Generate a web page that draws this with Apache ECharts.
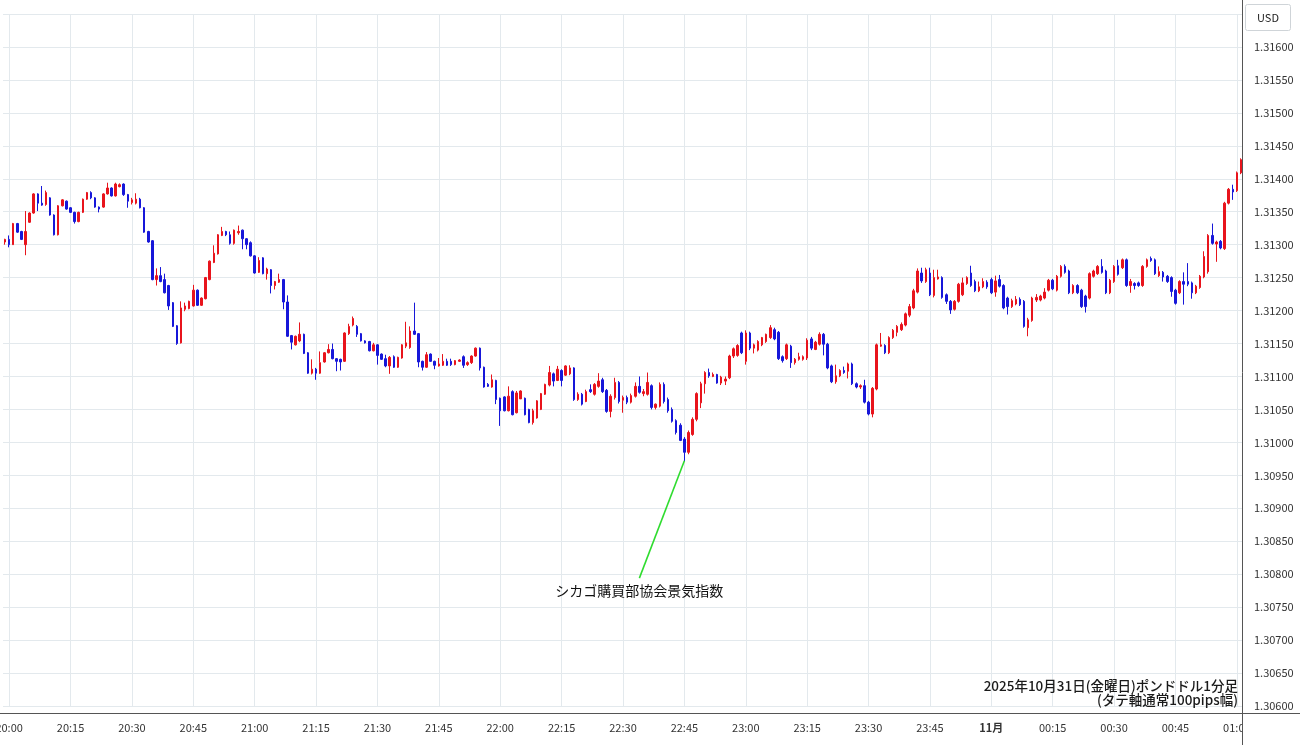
<!DOCTYPE html>
<html>
<head>
<meta charset="utf-8">
<script src="https://cdn.jsdelivr.net/npm/echarts@6/dist/echarts.min.js"></script>
<style>
html,body{margin:0;padding:0;background:#fff;}
#chart{width:1300px;height:745px;}
</style>
</head>
<body>
<div id="chart"></div>
<script>
// minute categories 19:59 .. 01:01
const startTime = '19:59';
const candleCount = 303;
const categories = [];
(function () {
  const p = startTime.split(':');
  const s = (+p[0]) * 60 + (+p[1]);
  for (let i = 0; i < candleCount; i++) {
    const m = (s + i) % 1440;
    categories.push(String(Math.floor(m / 60)).padStart(2, '0') + ':' + String(m % 60).padStart(2, '0'));
  }
})();

// x tick labels shown every 15 minutes
const xTickLabels = ['20:00','20:15','20:30','20:45','21:00','21:15','21:30','21:45','22:00','22:15','22:30','22:45','23:00','23:15','23:30','23:45','00:00','00:15','00:30','00:45','01:00'];
const dayChangeLabel = '11月';

// [open, close, low, high]
const ohlc = [
[1.31304,1.31308,1.31300,1.31309],[1.31308,1.31300,1.31296,1.31314],[1.31300,1.31332,1.31300,1.31333],[1.31332,1.31319,1.31318,1.31333],
[1.31320,1.31308,1.31307,1.31321],[1.31300,1.31320,1.31284,1.31351],[1.31334,1.31348,1.31333,1.31349],[1.31348,1.31377,1.31347,1.31378],
[1.31377,1.31363,1.31351,1.31378],[1.31363,1.31360,1.31359,1.31389],[1.31361,1.31379,1.31359,1.31382],[1.31371,1.31345,1.31344,1.31372],
[1.31345,1.31315,1.31314,1.31346],[1.31315,1.31359,1.31314,1.31360],[1.31359,1.31368,1.31358,1.31369],[1.31366,1.31354,1.31353,1.31367],
[1.31356,1.31349,1.31348,1.31357],[1.31349,1.31335,1.31332,1.31350],[1.31335,1.31349,1.31334,1.31350],[1.31349,1.31369,1.31348,1.31370],
[1.31369,1.31379,1.31368,1.31380],[1.31379,1.31371,1.31369,1.31381],[1.31371,1.31357,1.31356,1.31372],[1.31357,1.31354,1.31349,1.31358],
[1.31357,1.31377,1.31356,1.31378],[1.31377,1.31386,1.31376,1.31394],[1.31386,1.31374,1.31373,1.31387],[1.31374,1.31392,1.31373,1.31394],
[1.31388,1.31391,1.31387,1.31393],[1.31392,1.31376,1.31374,1.31393],[1.31376,1.31366,1.31356,1.31377],[1.31364,1.31368,1.31361,1.31371],
[1.31363,1.31369,1.31361,1.31378],[1.31369,1.31356,1.31355,1.31371],[1.31356,1.31319,1.31318,1.31357],[1.31320,1.31304,1.31303,1.31321],
[1.31306,1.31247,1.31246,1.31307],[1.31247,1.31253,1.31238,1.31264],[1.31253,1.31244,1.31243,1.31266],[1.31247,1.31227,1.31226,1.31256],
[1.31238,1.31207,1.31201,1.31239],[1.31212,1.31176,1.31175,1.31213],[1.31177,1.31150,1.31148,1.31178],[1.31151,1.31204,1.31150,1.31214],
[1.31202,1.31207,1.31199,1.31212],[1.31203,1.31214,1.31202,1.31215],[1.31207,1.31231,1.31206,1.31239],[1.31231,1.31208,1.31207,1.31232],
[1.31208,1.31219,1.31207,1.31220],[1.31218,1.31250,1.31217,1.31251],[1.31247,1.31275,1.31246,1.31276],[1.31273,1.31287,1.31272,1.31299],
[1.31286,1.31315,1.31285,1.31316],[1.31314,1.31320,1.31313,1.31327],[1.31320,1.31315,1.31313,1.31321],[1.31315,1.31302,1.31300,1.31320],
[1.31302,1.31322,1.31300,1.31323],[1.31318,1.31320,1.31315,1.31329],[1.31322,1.31309,1.31293,1.31323],[1.31309,1.31300,1.31293,1.31310],
[1.31303,1.31283,1.31282,1.31305],[1.31283,1.31257,1.31256,1.31284],[1.31258,1.31276,1.31257,1.31281],[1.31280,1.31256,1.31255,1.31281],
[1.31256,1.31263,1.31247,1.31265],[1.31262,1.31238,1.31226,1.31263],[1.31238,1.31244,1.31232,1.31245],[1.31243,1.31247,1.31242,1.31256],
[1.31247,1.31213,1.31202,1.31248],[1.31213,1.31161,1.31160,1.31223],[1.31162,1.31152,1.31141,1.31163],[1.31148,1.31161,1.31147,1.31162],
[1.31154,1.31164,1.31152,1.31182],[1.31164,1.31135,1.31134,1.31165],[1.31136,1.31105,1.31104,1.31137],[1.31105,1.31111,1.31103,1.31126],
[1.31111,1.31105,1.31095,1.31113],[1.31105,1.31121,1.31104,1.31138],[1.31122,1.31136,1.31121,1.31137],[1.31136,1.31141,1.31135,1.31149],
[1.31141,1.31127,1.31126,1.31150],[1.31127,1.31123,1.31108,1.31128],[1.31126,1.31122,1.31109,1.31127],[1.31123,1.31166,1.31122,1.31167],
[1.31165,1.31176,1.31163,1.31180],[1.31178,1.31188,1.31176,1.31191],[1.31176,1.31164,1.31160,1.31178],[1.31165,1.31154,1.31153,1.31166],
[1.31154,1.31151,1.31150,1.31155],[1.31153,1.31139,1.31138,1.31154],[1.31139,1.31148,1.31138,1.31151],[1.31148,1.31132,1.31118,1.31149],
[1.31134,1.31126,1.31125,1.31135],[1.31127,1.31116,1.31114,1.31133],[1.31116,1.31129,1.31104,1.31131],[1.31130,1.31114,1.31113,1.31132],
[1.31114,1.31129,1.31113,1.31130],[1.31128,1.31148,1.31127,1.31149],[1.31146,1.31151,1.31143,1.31183],[1.31144,1.31169,1.31142,1.31176],
[1.31169,1.31164,1.31163,1.31212],[1.31165,1.31122,1.31114,1.31166],[1.31123,1.31114,1.31109,1.31124],[1.31114,1.31133,1.31113,1.31137],
[1.31134,1.31123,1.31122,1.31135],[1.31123,1.31117,1.31111,1.31124],[1.31116,1.31119,1.31115,1.31128],[1.31117,1.31123,1.31116,1.31134],
[1.31123,1.31117,1.31116,1.31127],[1.31123,1.31118,1.31116,1.31127],[1.31118,1.31124,1.31117,1.31125],[1.31123,1.31125,1.31122,1.31126],
[1.31130,1.31117,1.31113,1.31132],[1.31118,1.31121,1.31116,1.31123],[1.31121,1.31131,1.31119,1.31132],[1.31131,1.31143,1.31130,1.31144],
[1.31143,1.31113,1.31109,1.31144],[1.31114,1.31084,1.31083,1.31115],[1.31088,1.31085,1.31084,1.31090],[1.31084,1.31095,1.31083,1.31103],
[1.31094,1.31065,1.31058,1.31095],[1.31067,1.31048,1.31025,1.31068],[1.31069,1.31048,1.31047,1.31070],[1.31048,1.31070,1.31047,1.31085],
[1.31077,1.31042,1.31041,1.31079],[1.31045,1.31075,1.31044,1.31078],[1.31066,1.31078,1.31066,1.31079],[1.31067,1.31042,1.31041,1.31068],
[1.31050,1.31030,1.31029,1.31051],[1.31030,1.31048,1.31027,1.31051],[1.31037,1.31063,1.31036,1.31064],[1.31050,1.31074,1.31049,1.31075],
[1.31073,1.31088,1.31072,1.31089],[1.31087,1.31106,1.31085,1.31116],[1.31104,1.31093,1.31085,1.31106],[1.31094,1.31111,1.31093,1.31116],
[1.31109,1.31094,1.31085,1.31111],[1.31102,1.31116,1.31101,1.31117],[1.31104,1.31113,1.31102,1.31117],[1.31113,1.31065,1.31063,1.31114],
[1.31065,1.31073,1.31063,1.31076],[1.31073,1.31058,1.31056,1.31075],[1.31062,1.31077,1.31061,1.31080],[1.31080,1.31077,1.31075,1.31088],
[1.31073,1.31088,1.31071,1.31090],[1.31085,1.31093,1.31083,1.31105],[1.31095,1.31077,1.31075,1.31098],[1.31079,1.31047,1.31045,1.31081],
[1.31047,1.31070,1.31038,1.31073],[1.31068,1.31091,1.31065,1.31098],[1.31091,1.31062,1.31059,1.31093],[1.31064,1.31068,1.31045,1.31071],
[1.31068,1.31061,1.31058,1.31071],[1.31061,1.31071,1.31059,1.31074],[1.31070,1.31085,1.31068,1.31091],[1.31085,1.31076,1.31074,1.31100],
[1.31074,1.31077,1.31070,1.31081],[1.31073,1.31091,1.31071,1.31106],[1.31086,1.31053,1.31050,1.31088],[1.31053,1.31058,1.31050,1.31059],
[1.31055,1.31088,1.31053,1.31091],[1.31088,1.31062,1.31059,1.31091],[1.31065,1.31048,1.31045,1.31068],[1.31050,1.31032,1.31030,1.31053],
[1.31033,1.31015,1.31012,1.31035],[1.31026,1.31003,1.31002,1.31029],[1.31005,1.30985,1.30971,1.31008],[1.30985,1.31015,1.30982,1.31018],
[1.31012,1.31035,1.31010,1.31038],[1.31035,1.31074,1.31032,1.31076],[1.31060,1.31089,1.31052,1.31092],[1.31089,1.31106,1.31074,1.31108],
[1.31106,1.31101,1.31098,1.31112],[1.31100,1.31103,1.31099,1.31106],[1.31103,1.31090,1.31089,1.31104],[1.31090,1.31099,1.31087,1.31101],
[1.31093,1.31096,1.31087,1.31100],[1.31098,1.31131,1.31096,1.31133],[1.31131,1.31142,1.31128,1.31144],[1.31132,1.31147,1.31130,1.31149],
[1.31166,1.31136,1.31134,1.31168],[1.31123,1.31166,1.31118,1.31170],[1.31166,1.31143,1.31140,1.31168],[1.31143,1.31148,1.31135,1.31150],
[1.31140,1.31153,1.31138,1.31155],[1.31148,1.31159,1.31146,1.31160],[1.31153,1.31164,1.31151,1.31165],[1.31159,1.31174,1.31157,1.31178],
[1.31171,1.31157,1.31155,1.31174],[1.31167,1.31127,1.31125,1.31169],[1.31130,1.31124,1.31121,1.31132],[1.31127,1.31148,1.31125,1.31150],
[1.31146,1.31121,1.31113,1.31148],[1.31121,1.31126,1.31118,1.31128],[1.31126,1.31130,1.31124,1.31136],[1.31126,1.31130,1.31124,1.31132],
[1.31128,1.31155,1.31125,1.31158],[1.31157,1.31143,1.31140,1.31160],[1.31141,1.31152,1.31140,1.31154],[1.31149,1.31164,1.31147,1.31167],
[1.31164,1.31149,1.31132,1.31166],[1.31149,1.31113,1.31111,1.31151],[1.31116,1.31092,1.31090,1.31118],[1.31092,1.31101,1.31089,1.31118],
[1.31101,1.31109,1.31099,1.31111],[1.31109,1.31106,1.31104,1.31115],[1.31108,1.31119,1.31097,1.31121],[1.31119,1.31089,1.31087,1.31121],
[1.31089,1.31084,1.31082,1.31091],[1.31084,1.31086,1.31081,1.31088],[1.31086,1.31061,1.31059,1.31095],[1.31061,1.31043,1.31041,1.31063],
[1.31043,1.31082,1.31038,1.31084],[1.31081,1.31148,1.31079,1.31150],[1.31146,1.31148,1.31145,1.31166],[1.31147,1.31136,1.31134,1.31149],
[1.31136,1.31159,1.31134,1.31161],[1.31159,1.31170,1.31157,1.31172],[1.31167,1.31176,1.31161,1.31178],[1.31171,1.31179,1.31169,1.31182],
[1.31178,1.31195,1.31176,1.31197],[1.31193,1.31206,1.31190,1.31210],[1.31204,1.31230,1.31202,1.31233],[1.31228,1.31260,1.31226,1.31264],
[1.31257,1.31245,1.31242,1.31265],[1.31244,1.31262,1.31242,1.31265],[1.31257,1.31224,1.31222,1.31265],[1.31223,1.31250,1.31220,1.31262],
[1.31248,1.31251,1.31247,1.31262],[1.31250,1.31220,1.31218,1.31252],[1.31224,1.31214,1.31210,1.31226],[1.31214,1.31201,1.31195,1.31216],
[1.31202,1.31214,1.31200,1.31216],[1.31214,1.31240,1.31212,1.31242],[1.31224,1.31242,1.31222,1.31250],[1.31241,1.31250,1.31239,1.31252],
[1.31257,1.31238,1.31236,1.31268],[1.31244,1.31230,1.31228,1.31247],[1.31230,1.31236,1.31228,1.31244],[1.31236,1.31244,1.31234,1.31249],
[1.31243,1.31236,1.31233,1.31246],[1.31247,1.31227,1.31225,1.31250],[1.31228,1.31245,1.31221,1.31253],[1.31247,1.31237,1.31235,1.31254],
[1.31238,1.31204,1.31202,1.31240],[1.31219,1.31206,1.31194,1.31221],[1.31206,1.31215,1.31204,1.31218],[1.31210,1.31217,1.31208,1.31222],
[1.31217,1.31209,1.31207,1.31220],[1.31214,1.31176,1.31174,1.31216],[1.31174,1.31186,1.31161,1.31189],[1.31185,1.31219,1.31183,1.31221],
[1.31216,1.31220,1.31213,1.31225],[1.31216,1.31222,1.31214,1.31224],[1.31219,1.31228,1.31217,1.31234],[1.31231,1.31246,1.31229,1.31248],
[1.31246,1.31233,1.31231,1.31248],[1.31231,1.31252,1.31229,1.31254],[1.31252,1.31267,1.31250,1.31269],[1.31267,1.31258,1.31256,1.31270],
[1.31260,1.31227,1.31225,1.31262],[1.31227,1.31238,1.31225,1.31240],[1.31238,1.31227,1.31225,1.31240],[1.31231,1.31206,1.31204,1.31233],
[1.31222,1.31206,1.31197,1.31224],[1.31219,1.31256,1.31217,1.31258],[1.31252,1.31260,1.31250,1.31262],[1.31256,1.31267,1.31254,1.31269],
[1.31267,1.31258,1.31256,1.31278],[1.31260,1.31227,1.31225,1.31262],[1.31227,1.31246,1.31225,1.31248],[1.31244,1.31267,1.31242,1.31269],
[1.31268,1.31255,1.31253,1.31277],[1.31265,1.31277,1.31263,1.31279],[1.31277,1.31238,1.31236,1.31279],[1.31238,1.31244,1.31227,1.31248],
[1.31241,1.31238,1.31232,1.31243],[1.31242,1.31238,1.31236,1.31244],[1.31238,1.31267,1.31236,1.31269],[1.31267,1.31277,1.31265,1.31279],
[1.31279,1.31276,1.31274,1.31282],[1.31277,1.31256,1.31254,1.31279],[1.31253,1.31259,1.31251,1.31267],[1.31258,1.31251,1.31244,1.31260],
[1.31252,1.31244,1.31242,1.31254],[1.31250,1.31229,1.31221,1.31252],[1.31231,1.31211,1.31209,1.31233],[1.31227,1.31244,1.31225,1.31246],
[1.31244,1.31240,1.31209,1.31258],[1.31244,1.31240,1.31237,1.31272],[1.31242,1.31227,1.31218,1.31244],[1.31227,1.31237,1.31225,1.31239],
[1.31235,1.31252,1.31233,1.31254],[1.31251,1.31282,1.31249,1.31290],[1.31259,1.31314,1.31256,1.31316],[1.31314,1.31302,1.31300,1.31332],
[1.31301,1.31304,1.31274,1.31306],[1.31305,1.31295,1.31293,1.31307],[1.31294,1.31363,1.31292,1.31365],[1.31363,1.31384,1.31361,1.31386],
[1.31384,1.31380,1.31368,1.31391],[1.31382,1.31409,1.31380,1.31411],[1.31409,1.31429,1.31407,1.31431]
];

// annotation
const eventLabel = 'シカゴ購買部協会景気指数';
const eventTime = '22:45';
const eventPrice = 1.30972;
const eventLabelTime = '22:34';
const eventLabelPrice = 1.30794;

const titleLines = ['2025年10月31日(金曜日)ポンドドル1分足', '(タテ軸通常100pips幅)'];
const currencyLabel = 'USD';

const yMin = 1.306, yMax = 1.3165, yStep = 0.0005;

const UP = '#e8141c', DOWN = '#1717d9', GRID = '#e3e9ed', AXIS = '#555';
const FONT = '"Noto Sans CJK JP", "Noto Sans", sans-serif';

const chart = echarts.init(document.getElementById('chart'), null, {renderer: 'canvas'});
const isTick = (i) => xTickLabels.indexOf(categories[i]) >= 0;

chart.setOption({
  animation: false,
  backgroundColor: '#ffffff',
  grid: {left: 3, right: 57, top: 14, bottom: 39, containLabel: false, outerBoundsMode: 'none'},
  xAxis: {
    type: 'category',
    data: categories,
    boundaryGap: true,
    axisLine: {show: false},
    axisTick: {show: false},
    axisLabel: {
      interval: (i) => isTick(i),
      formatter: (v) => v === '00:00' ? '{b|' + dayChangeLabel + '}' : v,
      rich: {b: {fontWeight: 'bold', fontSize: 11, color: '#333', fontFamily: FONT}},
      color: '#333', fontSize: 11, margin: 16, fontFamily: FONT, hideOverlap: false
    },
    splitLine: {show: true, interval: (i) => isTick(i), alignWithLabel: true, lineStyle: {color: GRID, width: 1}}
  },
  yAxis: {
    type: 'value', position: 'right', min: yMin, max: yMax, interval: yStep,
    axisLine: {show: false}, axisTick: {show: false},
    axisLabel: {formatter: (v) => v.toFixed(5), color: '#333', fontSize: 11, margin: 11, showMaxLabel: false, fontFamily: FONT},
    splitLine: {show: true, lineStyle: {color: GRID, width: 1}}
  },
  series: [{
    type: 'candlestick',
    data: ohlc,
    barWidth: 2,
    itemStyle: {color: UP, color0: DOWN, borderColor: UP, borderColor0: DOWN, borderWidth: 1},
    silent: true,
    markLine: {
      silent: true, symbol: ['none', 'none'], animation: false,
      label: {show: false},
      lineStyle: {color: '#2fdc2f', width: 1.6, type: 'solid'},
      data: [[{coord: [eventTime, eventPrice]}, {coord: [eventLabelTime, eventLabelPrice]}]]
    },
    markPoint: {
      silent: true, animation: false,
      data: [{
        coord: [eventLabelTime, eventLabelPrice], symbol: 'circle', symbolSize: 1,
        itemStyle: {color: 'rgba(0,0,0,0)'},
        label: {show: true, formatter: eventLabel, position: 'bottom', distance: 5, color: '#111', fontSize: 14, fontFamily: FONT}
      }]
    }
  }],
  graphic: [
    {type: 'rect', z: 100, shape: {x: 1243, y: 713, width: 57, height: 32}, style: {fill: '#fff'}},
    {type: 'line', z: 101, shape: {x1: 0, y1: 713.5, x2: 1300, y2: 713.5}, style: {stroke: AXIS, lineWidth: 1}},
    {type: 'line', z: 101, shape: {x1: 1242.5, y1: 0, x2: 1242.5, y2: 745}, style: {stroke: AXIS, lineWidth: 1}},
    {type: 'rect', z: 101, shape: {x: 1245.5, y: 4.5, width: 45, height: 26, r: 2}, style: {fill: '#fff', stroke: '#cfd4d8', lineWidth: 1}},
    {type: 'text', z: 102, x: 1268, y: 17.5, style: {text: currencyLabel, fill: '#222', font: '11px ' + FONT, textAlign: 'center', textVerticalAlign: 'middle'}},
    {type: 'text', z: 102, x: 1238, y: 686, style: {text: titleLines[0], fill: '#1a1a1a', font: '500 13.5px ' + FONT, textAlign: 'right', textVerticalAlign: 'middle'}},
    {type: 'text', z: 102, x: 1238, y: 700, style: {text: titleLines[1], fill: '#1a1a1a', font: '500 13.5px ' + FONT, textAlign: 'right', textVerticalAlign: 'middle'}}
  ]
});
</script>
</body>
</html>
